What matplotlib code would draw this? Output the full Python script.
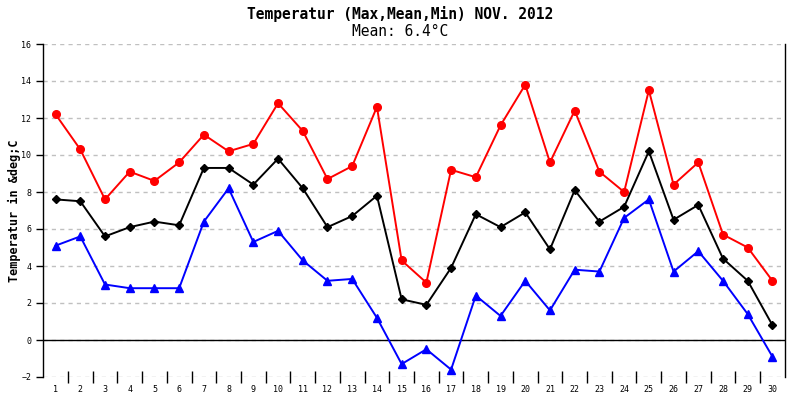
import matplotlib
matplotlib.use("Agg")
import matplotlib.pyplot as plt

days = list(range(1, 31))
t_max = [12.2, 10.3, 7.6, 9.1, 8.6, 9.6, 11.1, 10.2, 10.6, 12.8,
         11.3, 8.7, 9.4, 12.6, 4.3, 3.1, 9.2, 8.8, 11.6, 13.8,
         9.6, 12.4, 9.1, 8.0, 13.5, 8.4, 9.6, 5.7, 5.0, 3.2]
t_mean = [7.6, 7.5, 5.6, 6.1, 6.4, 6.2, 9.3, 9.3, 8.4, 9.8,
          8.2, 6.1, 6.7, 7.8, 2.2, 1.9, 3.9, 6.8, 6.1, 6.9,
          4.9, 8.1, 6.4, 7.2, 10.2, 6.5, 7.3, 4.4, 3.2, 0.8]
t_min = [5.1, 5.6, 3.0, 2.8, 2.8, 2.8, 6.4, 8.2, 5.3, 5.9,
         4.3, 3.2, 3.3, 1.2, -1.3, -0.5, -1.6, 2.4, 1.3, 3.2,
         1.6, 3.8, 3.7, 6.6, 7.6, 3.7, 4.8, 3.2, 1.4, -0.9]
y_ticks = list(range(-2, 17, 2))

mono = ["DejaVu Sans Mono"]
fig = plt.figure(figsize=(8, 4), dpi=100)
ax = fig.add_axes([0.054, 0.0575, 0.927, 0.8325])

for y in y_ticks:
    ax.axhline(y, color="#c0c0c0", lw=1, ls=(0, (3, 3)), zorder=0)
ax.axhline(0, color="black", lw=1, zorder=1)

ax.plot(days, t_max, color="#ff0000", lw=1.4, marker="o", ms=5.5, zorder=3)
ax.plot(days, t_mean, color="black", lw=1.4, marker="D", ms=3.8, zorder=3)
ax.plot(days, t_min, color="#0000ff", lw=1.4, marker="^", ms=5.5, zorder=3)

ax.set_xlim(0.5, 30.5)
ax.set_ylim(-2, 16)
ax.set_yticks(y_ticks)
ax.set_xticks(days)
ax.set_xticks([d + 0.5 for d in days[:-1]], minor=True)
ax.tick_params(axis="x", which="major", length=0, labelsize=6, pad=6)
ax.tick_params(axis="x", which="minor", length=9, direction="inout", width=1)
ax.tick_params(axis="y", length=5, labelsize=6, direction="out", width=1)
for lab in ax.get_xticklabels() + ax.get_yticklabels():
    lab.set_family(mono)

ax.spines["top"].set_visible(False)
ax.spines["bottom"].set_visible(False)
ax.spines["left"].set_linewidth(1)
ax.spines["right"].set_linewidth(1)

ax.set_ylabel("Temperatur in &deg;C", family=mono, fontsize=8.5, fontweight="bold", labelpad=0)
fig.text(0.5, 0.965, "Temperatur (Max,Mean,Min) NOV. 2012", ha="center", va="center",
         family=mono, fontsize=10.5, fontweight="bold")
fig.text(0.5, 0.922, "Mean: 6.4°C", ha="center", va="center",
         family=mono, fontsize=10.5)

fig.savefig("out.png", dpi=100)
